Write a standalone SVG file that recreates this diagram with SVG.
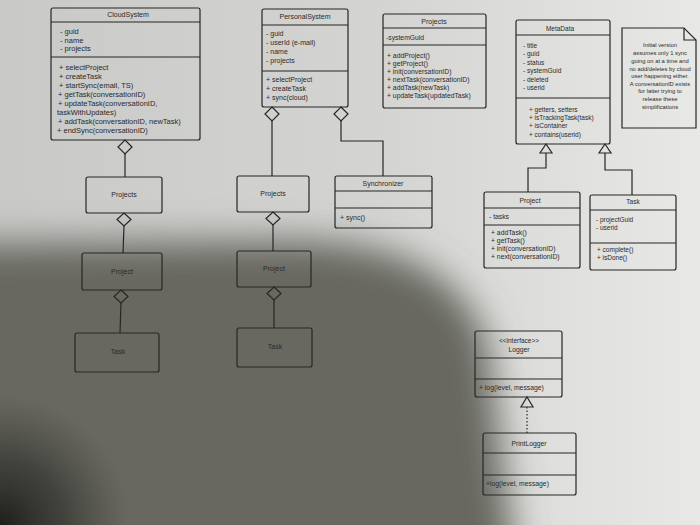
<svg xmlns="http://www.w3.org/2000/svg" width="700" height="525" viewBox="0 0 700 525">
<defs>
<linearGradient id="paper" x1="0" y1="0" x2="1" y2="0">
<stop offset="0" stop-color="#c9c9c7"/>
<stop offset="0.55" stop-color="#d4d4d2"/>
<stop offset="1" stop-color="#e8e8e6"/>
</linearGradient>
<radialGradient id="corner" cx="0" cy="525" r="130" gradientUnits="userSpaceOnUse">
<stop offset="0" stop-color="#1a1a18" stop-opacity="0.95"/>
<stop offset="0.5" stop-color="#2a2a27" stop-opacity="0.6"/>
<stop offset="1" stop-color="#3a3a36" stop-opacity="0"/>
</radialGradient>
<filter id="blur" filterUnits="userSpaceOnUse" x="-300" y="-100" width="1300" height="900"><feGaussianBlur stdDeviation="18"/></filter>
<style>
.box{fill:none;stroke:#262626;stroke-width:1.2}
.conn{fill:none;stroke:#262626;stroke-width:1.2}
.t{font-family:"Liberation Sans",Arial,sans-serif;fill:#2a2a2a;font-size:7px}
.c{text-anchor:middle}
.n{font-size:5.8px;text-anchor:middle}
.m{font-size:7.5px}
</style>
</defs>
<rect width="700" height="525" fill="url(#paper)"/>
<path d="M-150,245 L300,240 C430,245 470,295 488,345 L520,600 L-150,600 Z" fill="#686861" filter="url(#blur)"/>
<rect width="700" height="525" fill="url(#corner)"/>

<g id="CloudSystem">
<rect class="box" x="51" y="8" width="149" height="132" rx="2"/>
<line class="box" x1="51" y1="22" x2="200" y2="22"/>
<line class="box" x1="51" y1="57" x2="200" y2="57"/>
<text class="t c" x="128" y="17">CloudSystem</text>
<text class="t m" x="60" y="34">- guid</text>
<text class="t m" x="60" y="42.5">- name</text>
<text class="t m" x="60" y="51">- projects</text>
<text class="t m" x="59" y="69.5">+ selectProject</text>
<text class="t m" x="59" y="78.5">+ createTask</text>
<text class="t m" x="59" y="87.5">+ startSync(email, TS)</text>
<text class="t m" x="58" y="96.5">+ getTask(conversationID)</text>
<text class="t m" x="58" y="105.5">+ updateTask(conversationID,</text>
<text class="t m" x="57" y="114.5">taskWithUpdates)</text>
<text class="t m" x="58" y="123.5">+ addTask(conversationID, newTask)</text>
<text class="t m" x="57" y="132.5">+ endSync(conversationID)</text>
</g>

<g id="PersonalSystem">
<rect class="box" x="262" y="9" width="86" height="98" rx="2"/>
<line class="box" x1="262" y1="25" x2="348" y2="25"/>
<line class="box" x1="262" y1="71" x2="348" y2="71"/>
<text class="t c" x="305" y="18.5">PersonalSystem</text>
<text class="t" x="266" y="35.5">- guid</text>
<text class="t" x="266" y="44.5">- userId (e-mail)</text>
<text class="t" x="266" y="53.5">- name</text>
<text class="t" x="266" y="62.5">- projects</text>
<text class="t" x="266" y="81.5">+ selectProject</text>
<text class="t" x="266" y="90.5">+ createTask</text>
<text class="t" x="266" y="99.5">+ sync(cloud)</text>
</g>

<g id="ProjectsTop">
<rect class="box" x="383" y="14" width="103" height="94" rx="2"/>
<line class="box" x1="383" y1="28" x2="486" y2="28"/>
<line class="box" x1="383" y1="45" x2="486" y2="45"/>
<text class="t c" x="434" y="24">Projects</text>
<text class="t" x="386" y="39.5" style="font-size:6.8px">-systemGuid</text>
<text class="t" x="387" y="57.5" style="font-size:6.8px">+ addProject()</text>
<text class="t" x="387" y="65.5" style="font-size:6.8px">+ getProject()</text>
<text class="t" x="387" y="73.5" style="font-size:6.8px">+ init(conversationID)</text>
<text class="t" x="387" y="81.5" style="font-size:6.8px">+ nextTask(conversationID)</text>
<text class="t" x="387" y="89.5" style="font-size:6.8px">+ addTask(newTask)</text>
<text class="t" x="387" y="97.5" style="font-size:6.8px">+ updateTask(updatedTask)</text>
</g>

<g id="MetaData">
<rect class="box" x="516" y="20" width="94" height="124" rx="2"/>
<line class="box" x1="516" y1="35" x2="610" y2="35"/>
<line class="box" x1="516" y1="98" x2="610" y2="98"/>
<text class="t c" x="560" y="31" style="font-size:6.5px">MetaData</text>
<text class="t" x="523" y="47.5" style="font-size:6.5px">- title</text>
<text class="t" x="523" y="56" style="font-size:6.5px">- guid</text>
<text class="t" x="523" y="64.5" style="font-size:6.5px">- status</text>
<text class="t" x="523" y="73" style="font-size:6.5px">- systemGuid</text>
<text class="t" x="523" y="81.5" style="font-size:6.5px">- deleted</text>
<text class="t" x="523" y="90" style="font-size:6.5px">- userid</text>
<text class="t" x="529" y="111.5" style="font-size:6.5px">+ getters, setters</text>
<text class="t" x="529" y="119.5" style="font-size:6.5px">+ isTrackingTask(task)</text>
<text class="t" x="529" y="128" style="font-size:6.5px">+ isContainer</text>
<text class="t" x="529" y="136.5" style="font-size:6.5px">+ contains(userid)</text>
</g>

<g id="Note">
<path class="box" d="M622,28 L684,28 L696,40 L696,128 L622,128 Z"/>
<path class="box" d="M684,28 L684,40 L696,40"/>
<text class="t n" x="660" y="47">Initial version</text>
<text class="t n" x="660" y="55">assumes only 1 sync</text>
<text class="t n" x="660" y="63">going on at a time and</text>
<text class="t n" x="660" y="70.5">no add/deletes by cloud</text>
<text class="t n" x="660" y="78">user happening either.</text>
<text class="t n" x="660" y="85.5">A conversationID exists</text>
<text class="t n" x="660" y="93">for latter trying to</text>
<text class="t n" x="660" y="101">release these</text>
<text class="t n" x="660" y="109">simplifications</text>
</g>

<g id="Synchronizer">
<rect class="box" x="335" y="176" width="97" height="52" rx="2"/>
<line class="box" x1="335" y1="191" x2="432" y2="191"/>
<line class="box" x1="335" y1="208" x2="432" y2="208"/>
<text class="t c" x="383" y="185.5">Synchronizer</text>
<text class="t" x="340" y="219.5">+ sync()</text>
</g>

<g id="ProjectsLeft">
<rect class="box" x="86" y="177" width="76" height="36" rx="2"/>
<text class="t c" x="124" y="197">Projects</text>
</g>
<g id="ProjectLeft">
<rect class="box" x="82" y="253" width="80" height="37" rx="2"/>
<text class="t c" x="122" y="274">Project</text>
</g>
<g id="TaskLeft">
<rect class="box" x="75" y="333" width="84" height="39" rx="2"/>
<text class="t c" x="118" y="354">Task</text>
</g>

<g id="ProjectsMid">
<rect class="box" x="237" y="176" width="72" height="36" rx="2"/>
<text class="t c" x="273" y="196">Projects</text>
</g>
<g id="ProjectMid">
<rect class="box" x="237" y="251" width="74" height="36" rx="2"/>
<text class="t c" x="274" y="271">Project</text>
</g>
<g id="TaskMid">
<rect class="box" x="237" y="328" width="75" height="39" rx="2"/>
<text class="t c" x="275" y="349">Task</text>
</g>

<g id="ProjectRight">
<rect class="box" x="484" y="192" width="96" height="76" rx="2"/>
<line class="box" x1="484" y1="208" x2="580" y2="208"/>
<line class="box" x1="484" y1="225" x2="580" y2="225"/>
<text class="t c" x="530" y="202.5" style="font-size:6.8px">Project</text>
<text class="t" x="489" y="218.5" style="font-size:6.8px">- tasks</text>
<text class="t" x="491" y="234.5" style="font-size:6.8px">+ addTask()</text>
<text class="t" x="491" y="242.5" style="font-size:6.8px">+ getTask()</text>
<text class="t" x="491" y="250.5" style="font-size:6.8px">+ init(conversationID)</text>
<text class="t" x="491" y="258.5" style="font-size:6.8px">+ next(conversationID)</text>
</g>

<g id="TaskRight">
<rect class="box" x="590" y="195" width="86" height="75" rx="2"/>
<line class="box" x1="590" y1="210" x2="676" y2="210"/>
<line class="box" x1="590" y1="243" x2="676" y2="243"/>
<text class="t c" x="633" y="203.5" style="font-size:6.5px">Task</text>
<text class="t" x="596" y="221.5" style="font-size:6.5px">- projectGuid</text>
<text class="t" x="596" y="230" style="font-size:6.5px">- userid</text>
<text class="t" x="597" y="251.5" style="font-size:6.5px">+ complete()</text>
<text class="t" x="597" y="260" style="font-size:6.5px">+ isDone()</text>
</g>

<g id="Logger">
<rect class="box" x="475" y="331" width="87" height="66" rx="2"/>
<line class="box" x1="475" y1="358" x2="562" y2="358"/>
<line class="box" x1="475" y1="379" x2="562" y2="379"/>
<text class="t c" x="519" y="342.5" style="font-size:6.5px">&lt;&lt;interface&gt;&gt;</text>
<text class="t c" x="519" y="351.5" style="font-size:6.8px">Logger</text>
<text class="t" x="479" y="389.5" style="font-size:6.8px">+ log(level, message)</text>
</g>

<g id="PrintLogger">
<rect class="box" x="483" y="433" width="93" height="62" rx="2"/>
<line class="box" x1="483" y1="453" x2="576" y2="453"/>
<line class="box" x1="483" y1="475" x2="576" y2="475"/>
<text class="t c" x="529" y="445.5" style="font-size:6.8px">PrintLogger</text>
<text class="t" x="486" y="486" style="font-size:6.8px">+log(level, message)</text>
</g>

<g id="connectors">
<path class="conn" d="M125,140 L132,147 L125,154 L118,147 Z"/>
<path class="conn" d="M125,154 L125,177"/>
<path class="conn" d="M124,213 L131,219.5 L124,226 L117,219.5 Z"/>
<path class="conn" d="M124,226 L123,253"/>
<path class="conn" d="M121,290 L128,296.5 L121,303 L114,296.5 Z"/>
<path class="conn" d="M121,303 L120,333"/>
<path class="conn" d="M272,107 L279,114 L272,121 L265,114 Z"/>
<path class="conn" d="M272,121 L272,176"/>
<path class="conn" d="M273,212 L280,218.5 L273,225 L266,218.5 Z"/>
<path class="conn" d="M273,225 L273,251"/>
<path class="conn" d="M274,287 L281,293.5 L274,300 L267,293.5 Z"/>
<path class="conn" d="M274,300 L274,328"/>
<path class="conn" d="M341,107 L348,114 L341,121 L334,114 Z"/>
<path class="conn" d="M341,121 L341,141 L383,141 L383,176"/>
<path class="conn" d="M546,144 L552,153 L540,153 Z"/>
<path class="conn" d="M546,153 L546,168 L528,168 L528,192"/>
<path class="conn" d="M605,144 L611,153 L599,153 Z"/>
<path class="conn" d="M605,153 L605,170 L632,170 L632,195"/>
<path class="conn" d="M527,397 L533,407 L521,407 Z"/>
<path class="conn" d="M527,407 L527,433" stroke-dasharray="1.5 2"/>
</g>
</svg>
